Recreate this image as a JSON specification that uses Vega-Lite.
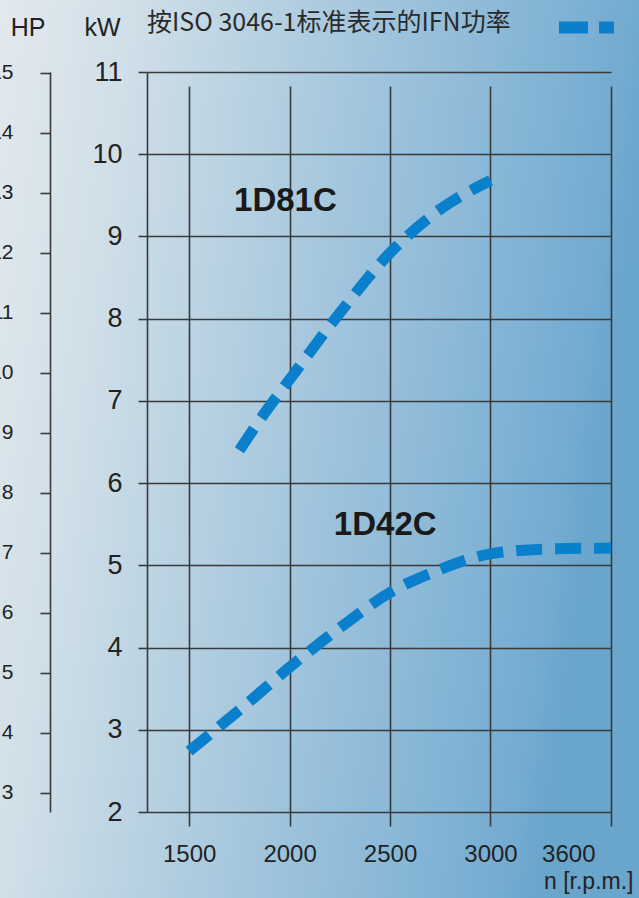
{
  "$schema": "https://vega.github.io/schema/vega-lite/v6.json",
  "width": 639,
  "height": 898,
  "autosize": {"type": "none"},
  "padding": 0,
  "background": "#6aa6cc",
  "config": {
    "font": "Liberation Sans",
    "view": {
      "stroke": null,
      "fill": {
        "gradient": "linear",
        "x1": 0, "y1": 0, "x2": 1, "y2": 0.2,
        "stops": [
          {"offset": 0, "color": "#e3e9ee"},
          {"offset": 0.2, "color": "#d0dfe8"},
          {"offset": 0.4, "color": "#b7d1e1"},
          {"offset": 0.6, "color": "#9ec3dc"},
          {"offset": 0.8, "color": "#86b6d6"},
          {"offset": 0.95, "color": "#74abd1"},
          {"offset": 1, "color": "#6aa5cc"}
        ]
      }
    }
  },
  "datasets": {
    "curves": [
      {"model": "1D81C", "series": "IFN", "rpm": 1750, "kW": 6.40},
      {"model": "1D81C", "series": "IFN", "rpm": 1875, "kW": 6.85},
      {"model": "1D81C", "series": "IFN", "rpm": 2000, "kW": 7.26},
      {"model": "1D81C", "series": "IFN", "rpm": 2250, "kW": 8.07},
      {"model": "1D81C", "series": "IFN", "rpm": 2500, "kW": 8.80},
      {"model": "1D81C", "series": "IFN", "rpm": 2750, "kW": 9.33},
      {"model": "1D81C", "series": "IFN", "rpm": 3000, "kW": 9.68},
      {"model": "1D42C", "series": "IFN", "rpm": 1500, "kW": 2.74},
      {"model": "1D42C", "series": "IFN", "rpm": 1750, "kW": 3.24},
      {"model": "1D42C", "series": "IFN", "rpm": 2000, "kW": 3.76},
      {"model": "1D42C", "series": "IFN", "rpm": 2250, "kW": 4.24},
      {"model": "1D42C", "series": "IFN", "rpm": 2500, "kW": 4.67},
      {"model": "1D42C", "series": "IFN", "rpm": 2750, "kW": 4.95},
      {"model": "1D42C", "series": "IFN", "rpm": 2900, "kW": 5.08},
      {"model": "1D42C", "series": "IFN", "rpm": 3000, "kW": 5.14},
      {"model": "1D42C", "series": "IFN", "rpm": 3300, "kW": 5.20},
      {"model": "1D42C", "series": "IFN", "rpm": 3600, "kW": 5.21}
    ],
    "labels": [
      {"model": "1D81C", "rpm": 1979, "kW": 9.43},
      {"model": "1D42C", "rpm": 2476, "kW": 5.49}
    ]
  },
  "resolve": {"scale": {"y": "independent"}, "axis": {"y": "independent"}},
  "layer": [
    {
      "layer": [
        {
          "data": {"name": "curves"},
          "mark": {"type": "line", "strokeWidth": 11, "strokeDash": [26, 13], "strokeCap": "butt", "interpolate": "monotone"},
          "encoding": {
            "x": {
              "field": "rpm", "type": "quantitative",
              "scale": {"domain": [1290, 3600], "range": [147, 611], "nice": false, "zero": false},
              "axis": {
                "orient": "bottom",
                "offset": -86,
                "values": [1500, 2000, 2500, 3000, 3600],
                "format": "d",
                "ticks": false,
                "domain": false,
                "grid": true,
                "gridColor": "#3a3a3a",
                "gridWidth": 1.6,
                "labelFontSize": 24,
                "labelColor": "#222222",
                "labelPadding": 30,
                "labelOffset": {"condition": {"test": "datum.value === 3600", "value": -16}, "value": 0},
                "title": "n [r.p.m.]",
                "titleFontSize": 23,
                "titleFontWeight": "normal",
                "titleColor": "#222222",
                "titleAlign": "right",
                "titleAnchor": "end",
                "titleBaseline": "alphabetic",
                "titleX": 633,
                "titleY": 76
              }
            },
            "y": {
              "field": "kW", "type": "quantitative",
              "scale": {"domain": [2, 11], "range": [812, 72], "nice": false, "zero": false},
              "axis": {
                "orient": "left",
                "offset": -147,
                "values": [2, 3, 4, 5, 6, 7, 8, 9, 10, 11],
                "format": "d",
                "tickSize": 9,
                "tickColor": "#3a3a3a",
                "tickWidth": 1.6,
                "domain": true,
                "domainColor": "#3a3a3a",
                "domainWidth": 1.6,
                "grid": true,
                "gridColor": "#3a3a3a",
                "gridWidth": 1.6,
                "labelFontSize": 27,
                "labelColor": "#222222",
                "labelPadding": 16,
                "title": "kW",
                "titleAngle": 0,
                "titleFontSize": 25,
                "titleFontWeight": "normal",
                "titleColor": "#222222",
                "titleAlign": "right",
                "titleBaseline": "alphabetic",
                "titleX": -27,
                "titleY": 35
              }
            },
            "detail": {"field": "model"},
            "color": {
              "field": "series", "type": "nominal",
              "scale": {"range": ["#0a7fcb"]},
              "legend": {
                "orient": "none",
                "legendX": 147,
                "legendY": -6,
                "title": "按ISO 3046-1标准表示的IFN功率",
                "titleOrient": "left",
                "titleLimit": 600,
                "titleFont": "Noto Sans CJK SC",
                "titleFontSize": 25,
                "titleFontWeight": "normal",
                "titleColor": "#2a2a2a",
                "titlePadding": 42,
                "padding": 0,
                "symbolType": "stroke",
                "symbolSize": 3025,
                "symbolStrokeWidth": 12,
                "symbolDash": [29, 11],
                "symbolStrokeColor": "#0a7fcb",
                "labelExpr": "''",
                "labelFontSize": 1
              }
            }
          }
        },
        {
          "data": {"name": "labels"},
          "mark": {"type": "text", "fontSize": 33, "fontWeight": "bold", "color": "#1a1a1a", "align": "center", "baseline": "middle"},
          "encoding": {
            "x": {"field": "rpm", "type": "quantitative"},
            "y": {"field": "kW", "type": "quantitative"},
            "text": {"field": "model"}
          }
        }
      ]
    },
    {
      "data": {"name": "labels"},
      "mark": {"type": "point", "opacity": 0},
      "encoding": {
        "y": {
          "datum": 3, "type": "quantitative",
          "scale": {"domain": [2.683, 15.01], "range": [812, 72], "nice": false, "zero": false},
          "axis": {
            "orient": "left",
            "offset": -50,
            "values": [3, 4, 5, 6, 7, 8, 9, 10, 11, 12, 13, 14, 15],
            "format": "d",
            "tickSize": 10,
            "tickColor": "#3a3a3a",
            "tickWidth": 1.6,
            "domain": true,
            "domainColor": "#3a3a3a",
            "domainWidth": 1.6,
            "grid": false,
            "labelFontSize": 21,
            "labelColor": "#222222",
            "labelPadding": 27,
            "title": "HP",
            "titleAngle": 0,
            "titleFontSize": 25,
            "titleFontWeight": "normal",
            "titleColor": "#222222",
            "titleAlign": "right",
            "titleBaseline": "alphabetic",
            "titleX": -5,
            "titleY": 35
          }
        }
      }
    }
  ]
}
